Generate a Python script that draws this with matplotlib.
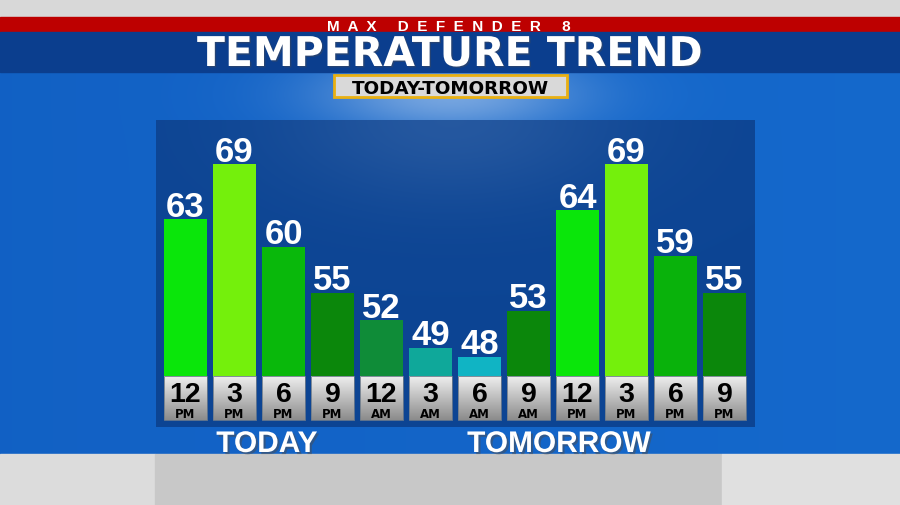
import numpy as np
import matplotlib.pyplot as plt
from matplotlib.patches import Rectangle
import matplotlib.patheffects as pe

plt.rcParams['font.family'] = ['Liberation Sans', 'DejaVu Sans']

# hourly temperatures, today 12 PM through tomorrow 9 PM
temps = [63, 69, 60, 55, 52, 49, 48, 53, 64, 69, 59, 55]
hours = ['12', '3', '6', '9', '12', '3', '6', '9', '12', '3', '6', '9']
periods = ['PM', 'PM', 'PM', 'PM', 'AM', 'AM', 'AM', 'AM', 'PM', 'PM', 'PM', 'PM']
day_labels = ['TODAY', 'TOMORROW']
brand = 'MAX DEFENDER 8'
title = 'TEMPERATURE TREND'
subtitle = 'TODAY-TOMORROW'

bar_colors = ['#0ae60a', '#74f00c', '#09b80b', '#0b870b', '#0f8c38', '#0fa89a',
              '#10b4c4', '#0b870b', '#0ae60a', '#74f00c', '#09b20b', '#0b870b']

W, H = 900, 506
fig = plt.figure(figsize=(9, 5.06), dpi=100)

# ---- background, drawn in pixel coordinates
bg = fig.add_axes([0, 0, 1, 1])
yy, xx = np.mgrid[0:H, 0:W].astype(float)
sky = np.array([0.07, 0.38, 0.77])
panel = np.array([0.05, 0.27, 0.58])
img = np.ones((H, W, 3)) * sky
img += (xx / W)[..., None] * np.array([0.01, 0.03, 0.03])
inside = (xx >= 156) & (xx < 755) & (yy >= 121) & (yy < 428)
img[inside] = panel
glow = np.exp(-(((xx - 450) / 130) ** 2 + ((yy - 95) / 40) ** 2))
glow_in = np.exp(-(((xx - 450) / 170) ** 2 + ((yy - 121) / 80) ** 2))
white = np.array([0.85, 0.9, 0.97])
img = np.where(inside[..., None], img + glow_in[..., None] * (white - img) * 0.12,
               img + glow[..., None] * (white - img) * 0.5)
bg.imshow(np.clip(img, 0, 1), extent=(0, W, H, 0), aspect='auto', zorder=0)
bg.set_xlim(0, W)
bg.set_ylim(H, 0)
bg.axis('off')

bg.add_patch(Rectangle((0, 0), W, 18, color='#d8d8d8', zorder=1))
bg.add_patch(Rectangle((0, 18), W, 15, color='#bd0000', zorder=1))
bg.add_patch(Rectangle((0, 33), W, 40, color='#0b3e8e', zorder=1))
bg.add_patch(Rectangle((0, 455), 155, 51, color='#dcdcdc', zorder=1))
bg.add_patch(Rectangle((155, 455), 567, 51, color='#c8c8c8', zorder=1))
bg.add_patch(Rectangle((722, 455), 178, 51, color='#e0e0e0', zorder=1))
bg.add_patch(Rectangle((334, 76), 233, 22, facecolor='#d9d9d9',
                       edgecolor='#e9b012', lw=2, zorder=2))

spaced = '     '.join('  '.join(word) for word in brand.split())
bg.text(449, 31, spaced, color='white', fontsize=11, fontweight='bold',
        ha='center', va='baseline', zorder=3)
bg.text(450, 67, title, color='white', fontsize=29.5, fontweight='bold',
        family=['DejaVu Sans'], ha='center', va='baseline', zorder=3,
        path_effects=[pe.withSimplePatchShadow(offset=(1, -1), alpha=0.4)])
bg.text(450, 93.5, subtitle, color='black', fontsize=13.2, fontweight='bold',
        family=['DejaVu Sans'], ha='center', va='baseline', zorder=3)

shadow = [pe.withSimplePatchShadow(offset=(1.5, -1.5), alpha=0.5)]
bg.text(267, 453, day_labels[0], color='white', fontsize=21.5, fontweight='bold',
        ha='center', va='baseline', zorder=3, path_effects=shadow)
bg.text(559, 453, day_labels[1], color='white', fontsize=21.5, fontweight='bold',
        ha='center', va='baseline', zorder=3, path_effects=shadow)

# ---- bar chart over the dark panel
PX_PER_DEG = 9.17
BASE = 45.9
ax = fig.add_axes([156 / W, (H - 428) / H, 599 / W, 307 / H])
ax.patch.set_alpha(0)
x = np.arange(len(temps))
bw = 43 / 49
ax.bar(x, np.array(temps) - BASE, bottom=BASE, width=bw, color=bar_colors,
       zorder=2)
for i, v in enumerate(temps):
    ax.annotate(str(v), (i, v), xytext=(0, 2.5), textcoords='offset points',
                ha='center', va='baseline', color='white', fontsize=25,
                fontweight='bold', zorder=3)

box_bottom = BASE - 44 / PX_PER_DEG
grad = np.linspace(0.93, 0.55, 50)[:, None] * np.ones((50, 2))
for i in range(len(temps)):
    ax.imshow(grad, cmap='gray', vmin=0, vmax=1, aspect='auto', zorder=2,
              extent=(i - bw / 2, i + bw / 2, box_bottom, BASE))
    ax.add_patch(Rectangle((i - bw / 2, box_bottom), bw, BASE - box_bottom,
                           fill=False, edgecolor='#6e7c8c', lw=0.6, zorder=2.5))
    ax.text(i, BASE - 24.5 / PX_PER_DEG, hours[i], ha='center', va='baseline',
            fontsize=20.5, fontweight='bold', color='black', zorder=3)
    ax.text(i, BASE - 41 / PX_PER_DEG, periods[i], ha='center', va='baseline',
            fontsize=8.5, fontweight='bold', family=['DejaVu Sans'], color='black',
            zorder=3)

ax.set_xlim(-29.5 / 49, (599 - 29.5) / 49)
ax.set_ylim(BASE - 51 / PX_PER_DEG, BASE + 256 / PX_PER_DEG)
ax.axis('off')

fig.savefig('out.png', dpi=100)
